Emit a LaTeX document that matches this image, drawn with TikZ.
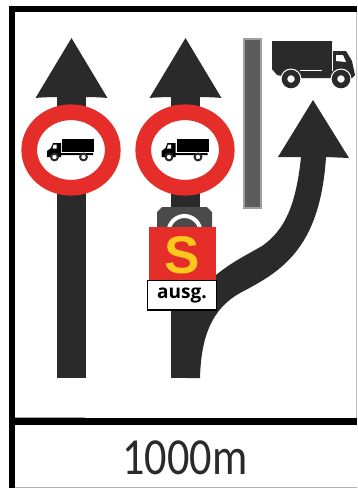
\documentclass[tikz,border=0pt]{standalone}
\usepackage{fontspec}
\setmainfont{Open Sans}
\newfontfamily\signfont{Liberation Sans}
\newfontfamily\distfont{Carlito}
\usepackage{xcolor}
\usetikzlibrary{positioning,shapes.geometric}
\definecolor{signred}{HTML}{E52D29}
\definecolor{signyellow}{HTML}{FFC81E}
\definecolor{roadblack}{HTML}{2A2A2A}
\definecolor{postgrey}{HTML}{5C5C5C}
\definecolor{headgrey}{HTML}{4A4A4A}

\begin{document}
\begin{tikzpicture}[x=1pt,y=-1pt]
\tikzset{
				frameline/.style={fill=black},
				roadarrow/.style={fill=roadblack},
				ring/.style={
					ellipse,
					draw=signred,
					fill=white,
					line width=15.7pt,
					minimum width=83.5pt,
					minimum height=75.5pt,
					inner sep=0pt,
					outer sep=0pt
				},
				wheel/.style={fill=white,draw=roadblack},
				pics/straightroad/.style={
					code={
						\fill[roadarrow] (-14.5,58) -- (14.5,58) -- (14.5,340) -- (-14.5,340) -- cycle;
						\fill[roadarrow] (0,0) -- (36,60) .. controls (25,58.5) and (-25,58.5) .. (-36,60) -- cycle;
					}
				},
				pics/smalltruck/.style={
					code={
						\fill[black] (14,-11.5) rectangle (46,2);
						\fill[black] (-1,7) -- (-1,1) -- (3,-2) -- (5,-7) -- (13,-7) -- (13,5) -- (45,5) -- (45,3) -- (13,3) -- (13,7) -- cycle;
						\fill[white] (5.5,-5.5) -- (8.5,-5.5) -- (8.5,-1.5) -- (4.5,-1.5) -- cycle;
						\draw[wheel,line width=2pt] (6.5,7) circle (3.4);
						\draw[wheel,line width=2pt] (35.5,7) circle (3.4);
					}
				},
				pics/bigtruck/.style={
					code={
						\fill[roadblack] (0,0) -- (60,0) -- (60,10) -- (74,10) -- (80,20) -- (83,34) -- (80,37) -- (50,37) -- (20,37) -- (5,34) -- (0,28) -- cycle;
						\fill[white] (64,14) -- (71,14) -- (74,21) -- (64,20) -- cycle;
						\fill[white] (28,28.5) rectangle (50,30);
						\fill[white] (60,2) rectangle (61,30);
						\fill[white] (19,38) circle (10.5);
						\fill[white] (69,38) circle (10.5);
						\draw[wheel,line width=5.5pt] (19,38) circle (6.5);
						\draw[wheel,line width=5.5pt] (69,38) circle (6.5);
					}
				}
			}
			\useasboundingbox (0,0) rectangle (357,488);
			\fill[white] (0,0) rectangle (357,488);
			% frame
			\fill[gray!50] (356,12) rectangle (357,418);
			\fill[gray!60] (15,487) rectangle (357,488);
			\fill[gray!70] (15,416.5) -- (85,416.5) -- (85,418) -- (15,418) -- cycle;
			\fill[frameline] (9,6) rectangle (357,12);
			\fill[frameline] (9,6) rectangle (15,488);
			\fill[frameline] (15,418) rectangle (357,425);
			% arrows
			\pic at (71.5,38) {straightroad};
			\pic at (185.5,38) {straightroad};
			\fill[roadarrow] (186,378) -- (200,378) .. controls (201,335) and (213,308) .. (240,293) .. controls (280,272) and (320,250) .. (326,157) -- (349,158) -- (313,100) -- (278,157) -- (301,157) .. controls (296,205) and (285,230) .. (262,246) .. controls (245,256) and (225,265) .. (205,285) -- (186,300) -- cycle;
			% post and truck
			\fill[gray!75] (243,38) rectangle (262,209);
			\fill[postgrey] (245,40) rectangle (260,207);
			\pic at (272,41) {bigtruck};
			% signal head
			\fill[headgrey] (162,207) -- (207,207) -- (212,212) -- (212,240) -- (157,240) -- (157,212) -- cycle;
			\begin{scope}
				\clip (150,205) rectangle (220,227);
				\draw[white,line width=4pt] (184.5,232) circle (16);
			\end{scope}
			% signs
			\node[ring] (ringleft) at (71,150) {};
			\node[ring] (ringright) at (185,150) {};
			\pic at (162.5,150) {smalltruck};
			\pic at (48,150) {smalltruck};
			\node[fill=signred,minimum width=67pt,minimum height=53pt,inner sep=0pt,outer sep=0pt] (redplate) at (182.5,253.5) {};
			\node[text=signyellow,font=\signfont\bfseries\fontsize{53}{53}\selectfont,inner sep=0pt] (letter) at (182.5,255.5) {S};
			\node[fill=white,draw=black,line width=1.5pt,minimum width=69pt,minimum height=29.5pt,inner sep=0pt,font=\bfseries\fontsize{19}{19}\selectfont] (ausg) at (182,295) {ausg.};
			\node[text=roadblack,font=\distfont\fontsize{52}{52}\selectfont,xscale=.85,inner sep=0pt] (dist) at (185,458) {1000m};
\end{tikzpicture}
\end{document}
